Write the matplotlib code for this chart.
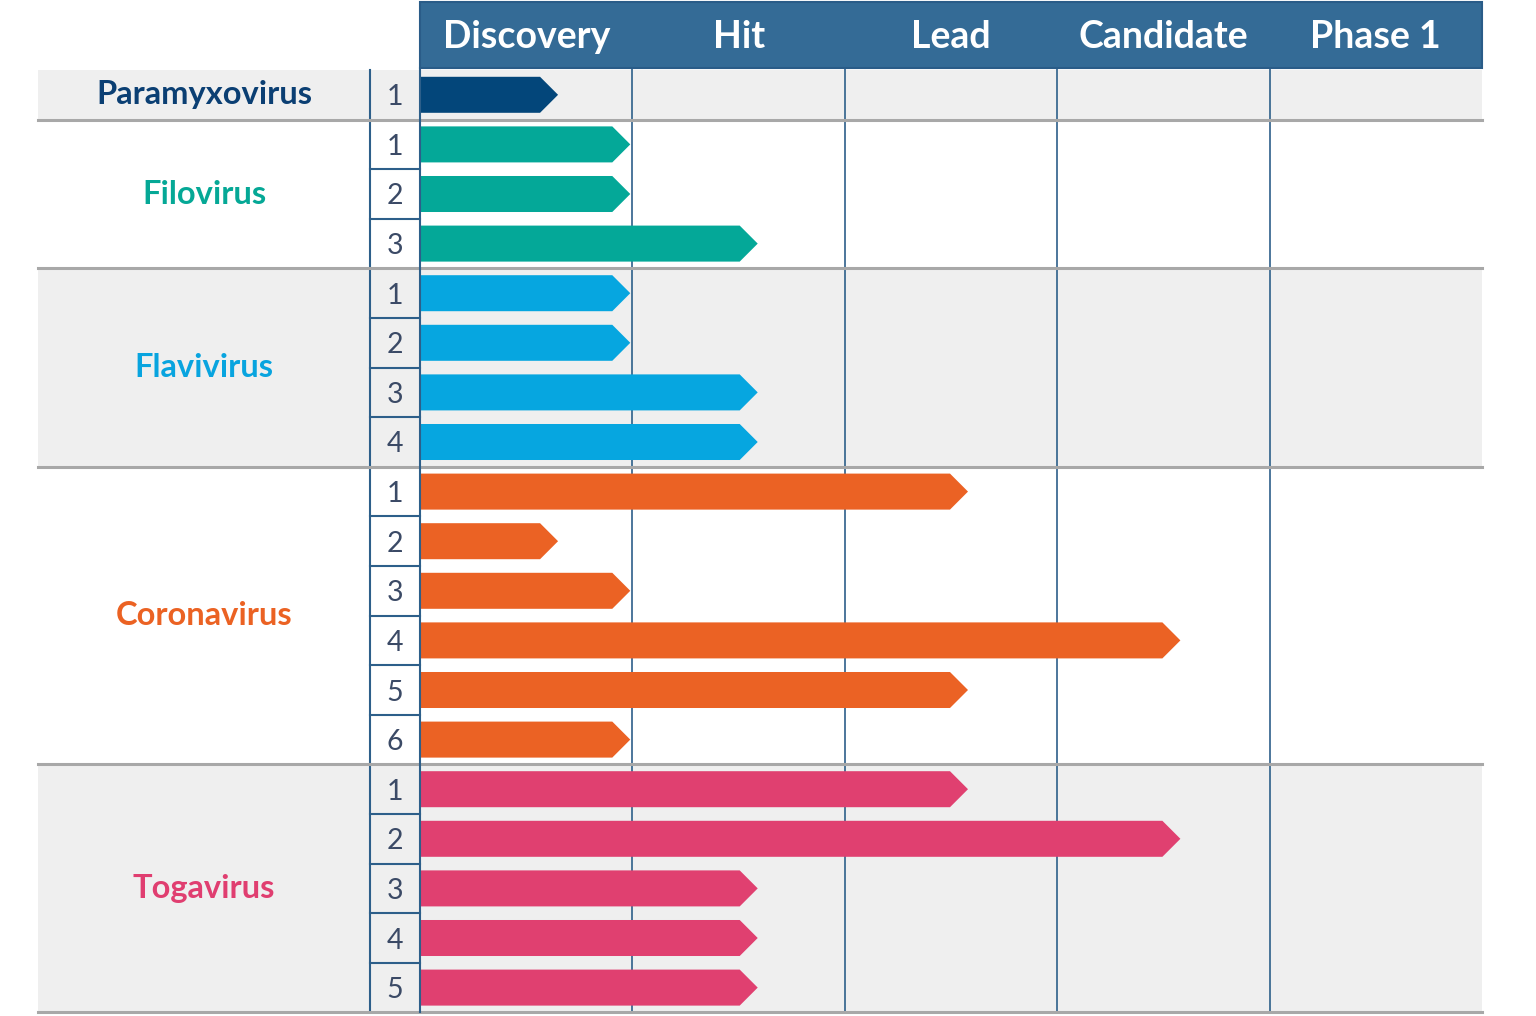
import numpy as np
import matplotlib.pyplot as plt
from matplotlib.patches import Polygon, Rectangle

# stage columns and virus groups
stages = ["Discovery", "Hit", "Lead", "Candidate", "Phase 1"]
groups = ["Paramyxovirus", "Filovirus", "Flavivirus", "Coronavirus", "Togavirus"]

# how far each programme has progressed (in stage columns)
paramyxovirus = [0.65]
filovirus = [0.99, 0.99, 1.59]
flavivirus = [0.99, 0.99, 1.59, 1.59]
coronavirus = [2.58, 0.65, 0.99, 3.58, 2.58, 0.99]
togavirus = [2.58, 3.58, 1.59, 1.59, 1.59]
progress = [paramyxovirus, filovirus, flavivirus, coronavirus, togavirus]

bar_colors = ["#03467a", "#04a898", "#06a6e0", "#eb6224", "#e04070"]
label_colors = ["#0b3f73", "#05a896", "#08a4df", "#eb6223", "#e03e70"]

HEADER = "#346b96"
GRID = "#2d5f8a"
SEP = "#a8a8a8"
BAND = "#efefef"
NUM = "#3b4a66"

# geometry (pixel -> data units)
W, H = 1536, 1016
col_px, x0_px = 212.4, 420
row_px, y0_px = 49.6, 70


def px_x(p):
    return (p - x0_px) / col_px


def px_y(p):
    return (p - y0_px) / row_px


plt.rcParams['font.family'] = ['Lato', 'DejaVu Sans']
fig = plt.figure(figsize=(W / 100, H / 100), dpi=100)
ax = fig.add_axes([0, 0, 1, 1])
ax.set_xlim(px_x(0), px_x(W))
ax.set_ylim(px_y(H), px_y(0))
ax.axis('off')

n_stages = len(stages)
n_rows = sum(len(p) for p in progress)
left = px_x(38)
num_left = px_x(370)
tip = 18 / col_px
half_h = 0.363

# group bands, labels, bars
row = 0
bounds = []
for g, (name, vals) in enumerate(zip(groups, progress)):
    n = len(vals)
    if g % 2 == 0:
        ax.add_patch(Rectangle((left, row), n_stages - left, n, color=BAND, zorder=0, lw=0))
    ax.text(px_x(204), row + n / 2, name, ha='center', va='center', fontsize=23.5,
            fontweight='bold', color=label_colors[g])
    for k, v in enumerate(vals):
        yc = row + k + 0.5
        ax.text(px_x(395), yc, str(k + 1), ha='center', va='center_baseline',
                fontsize=20.5, color=NUM)
        pts = [(0, yc - half_h), (v - tip, yc - half_h), (v, yc),
               (v - tip, yc + half_h), (0, yc + half_h)]
        ax.add_patch(Polygon(pts, closed=True, color=bar_colors[g], lw=0, zorder=3))
        if k > 0:
            ax.plot([num_left, 0], [row + k, row + k], color=GRID, lw=1.5, zorder=2)
    row += n
    bounds.append(row)

# vertical grid lines
for s in range(1, n_stages):
    ax.plot([s, s], [px_y(68), n_rows], color=GRID, lw=1.2, zorder=1)
ax.plot([0, 0], [px_y(68), n_rows], color=GRID, lw=1.5, zorder=4)
ax.plot([num_left, num_left], [0, n_rows], color=GRID, lw=1.5, zorder=2)

# group separators
for b in bounds:
    ax.plot([left, n_stages], [b, b], color=SEP, lw=2.2, zorder=2)

# header
ax.add_patch(Rectangle((0, px_y(2)), n_stages, px_y(68) - px_y(2), facecolor=HEADER,
                       edgecolor="#2a5c88", lw=1.5, zorder=5))
for s, name in enumerate(stages):
    ax.text(s + 0.5, px_y(37), name, ha='center', va='center', fontsize=27,
            fontweight='bold', color='white', zorder=6)

fig.savefig("out.png", dpi=100, facecolor='white')
